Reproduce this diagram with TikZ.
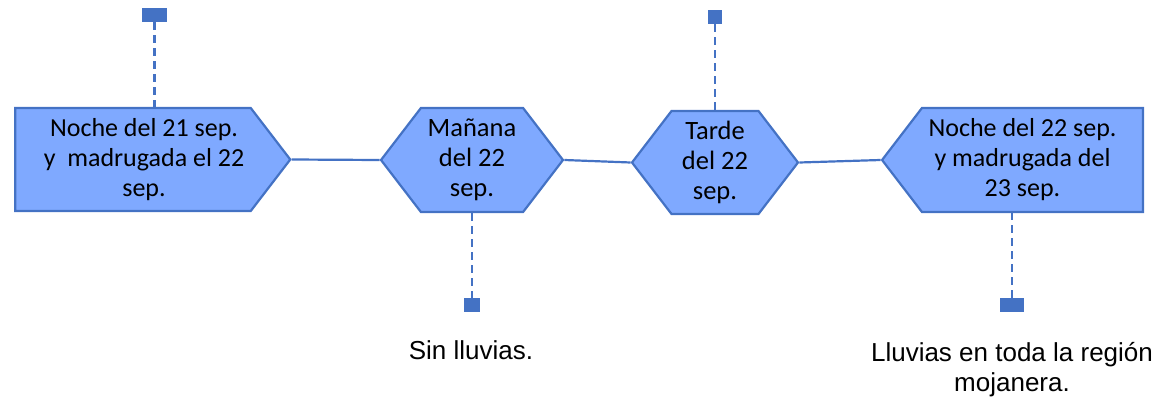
\documentclass[tikz,border=0pt]{standalone}
\usepackage{fontspec}
\setmainfont{Carlito}
\newfontfamily\notefont{Liberation Sans}
\usetikzlibrary{shapes.symbols}
\definecolor{stagefill}{RGB}{127,169,255}
\definecolor{stageline}{RGB}{68,114,196}
\tikzset{
    stage/.style={shape=signal, draw=stageline, fill=stagefill, line width=2.2pt,
        signal pointer angle=105, inner sep=0pt, align=center,
        font=\fontsize{26.5}{30}\selectfont},
    stagetext/.style={align=center, inner sep=0pt, font=\fontsize{26}{30}\selectfont},
    flag/.style={draw=none, fill=stageline, inner sep=0pt, minimum height=14pt},
    link/.style={draw=stageline, line width=2.2pt},
    stem/.style={draw=stageline, line width=2.2pt, dash pattern=on 8pt off 5pt},
    note/.style={align=center, font=\notefont\fontsize{26}{30}\selectfont, inner sep=0pt}
}
\begin{document}
\begin{tikzpicture}[x=1pt,y=-1pt]
    \useasboundingbox (0,0) rectangle (1166,404);
    \node[stage, signal to=east, minimum width=275pt, minimum height=103pt,
        label={[stagetext, xshift=11pt]center:Noche del 21 sep.\\y\ \ madrugada el 22\\sep.}]
        (noche21) at (133,159.5) {};
    \node[stage, signal to=east and west, minimum width=182pt, minimum height=104pt]
        (manana) at (472,160) {Mañana\\del 22\\sep.};
    \node[stage, signal to=east and west, minimum width=166pt, minimum height=103pt]
        (tarde) at (715,162.5) {Tarde\\del 22\\sep.};
    \node[stage, signal to=west, minimum width=261pt, minimum height=104pt,
        label={[stagetext, xshift=-10pt]center:Noche del 22 sep.\\y madrugada del\\23 sep.}]
        (noche22) at (1032.5,160) {};

    \node[flag, minimum width=25pt] (flagA) at (154.5,15) {};
    \node[flag, minimum width=16pt] (flagB) at (472,305) {};
    \node[flag, minimum width=14pt] (flagC) at (715,17) {};
    \node[flag, minimum width=24pt] (flagD) at (1012,305) {};

    \node[note] (sinlluvias) at (471,350) {Sin lluvias.};
    \node[note] (lluvias) at (1012,370) {Lluvias en toda la región\\mojanera.};

    \draw[link] (noche21.east) -- (manana.west);
    \draw[link] (manana.east) -- (tarde.west);
    \draw[link] (tarde.east) -- (noche22.west);

    \draw[stem] (flagA.south) -- (flagA.south |- noche21.north);
    \draw[stem] (manana.south) -- (flagB.north);
    \draw[stem] (tarde.north) -- (flagC.south);
    \draw[stem] (flagD.north) -- (flagD.north |- noche22.south);
\end{tikzpicture}
\end{document}
